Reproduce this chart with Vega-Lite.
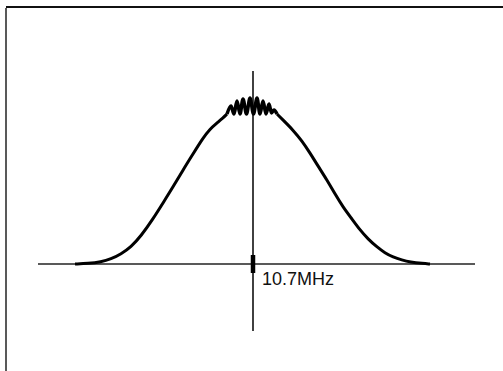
{
  "$schema": "https://vega.github.io/schema/vega-lite/v6.json",
  "width": 503,
  "height": 371,
  "autosize": {"type": "none"},
  "padding": 0,
  "background": "white",
  "config": {"view": {"stroke": null}},
  "datasets": {
    "left": [
      {"f": -178, "a": 0}, {"f": -165, "a": 0.5}, {"f": -152, "a": 2}, {"f": -142, "a": 5},
      {"f": -132, "a": 10}, {"f": -122, "a": 17}, {"f": -112, "a": 28}, {"f": -100, "a": 45},
      {"f": -90, "a": 61}, {"f": -80, "a": 77}, {"f": -70, "a": 94}, {"f": -60, "a": 110},
      {"f": -50, "a": 126}, {"f": -43, "a": 135}, {"f": -36, "a": 141}, {"f": -30, "a": 146},
      {"f": -26, "a": 150}
    ],
    "ripple": [
      {"f": -26, "a": 150}, {"f": -22, "a": 158}, {"f": -19, "a": 150}, {"f": -16, "a": 163},
      {"f": -13, "a": 150}, {"f": -10, "a": 165}, {"f": -6.5, "a": 150}, {"f": -3, "a": 166},
      {"f": 0.5, "a": 150}, {"f": 4, "a": 166}, {"f": 7, "a": 150}, {"f": 10, "a": 163},
      {"f": 13, "a": 150}, {"f": 16, "a": 160}, {"f": 18.5, "a": 151}, {"f": 21, "a": 154},
      {"f": 24, "a": 150}
    ],
    "right": [
      {"f": 24, "a": 150}, {"f": 30, "a": 144}, {"f": 40, "a": 134}, {"f": 49, "a": 123},
      {"f": 57, "a": 111}, {"f": 65, "a": 98}, {"f": 74, "a": 84}, {"f": 82, "a": 70},
      {"f": 90, "a": 57}, {"f": 99, "a": 45}, {"f": 107, "a": 34}, {"f": 115, "a": 25},
      {"f": 124, "a": 17}, {"f": 132, "a": 11}, {"f": 140, "a": 7}, {"f": 149, "a": 4},
      {"f": 157, "a": 2}, {"f": 170, "a": 0.5}, {"f": 177, "a": 0}
    ]
  },
  "encoding": {
    "x": {"type": "quantitative", "scale": {"domain": [-253, 250], "nice": false, "zero": false}, "axis": null},
    "y": {"type": "quantitative", "scale": {"domain": [-107, 264], "nice": false, "zero": false}, "axis": null}
  },
  "layer": [
    {
      "data": {"values": [{"x": -247, "y": -107, "y2": 256}]},
      "mark": {"type": "rule", "color": "#222", "strokeWidth": 1.5},
      "encoding": {"x": {"field": "x"}, "y": {"field": "y"}, "y2": {"field": "y2"}}
    },
    {
      "data": {"values": [{"x": -247, "x2": 250, "y": 257}]},
      "mark": {"type": "rule", "color": "#111", "strokeWidth": 2},
      "encoding": {"x": {"field": "x"}, "x2": {"field": "x2"}, "y": {"field": "y"}}
    },
    {
      "data": {"values": [{"x": -215, "x2": 222, "y": 0}]},
      "mark": {"type": "rule", "color": "#222", "strokeWidth": 1.5},
      "encoding": {"x": {"field": "x"}, "x2": {"field": "x2"}, "y": {"field": "y"}}
    },
    {
      "data": {"values": [{"x": 0, "y": -67, "y2": 193}]},
      "mark": {"type": "rule", "color": "#111", "strokeWidth": 1.6},
      "encoding": {"x": {"field": "x"}, "y": {"field": "y"}, "y2": {"field": "y2"}}
    },
    {
      "data": {"values": [{"x": 0, "y": -9, "y2": 9}]},
      "mark": {"type": "rule", "color": "#000", "strokeWidth": 4.5},
      "encoding": {"x": {"field": "x"}, "y": {"field": "y"}, "y2": {"field": "y2"}}
    },
    {
      "data": {"name": "left"},
      "mark": {"type": "line", "color": "#000", "strokeWidth": 3, "interpolate": "basis"},
      "encoding": {"x": {"field": "f"}, "y": {"field": "a"}}
    },
    {
      "data": {"name": "right"},
      "mark": {"type": "line", "color": "#000", "strokeWidth": 3, "interpolate": "basis"},
      "encoding": {"x": {"field": "f"}, "y": {"field": "a"}}
    },
    {
      "data": {"name": "ripple"},
      "mark": {"type": "line", "color": "#000", "strokeWidth": 3.5, "interpolate": "monotone", "strokeJoin": "round"},
      "encoding": {"x": {"field": "f"}, "y": {"field": "a"}}
    },
    {
      "data": {"values": [{"x": 9, "y": -16, "label": "10.7MHz"}]},
      "mark": {"type": "text", "align": "left", "baseline": "middle", "font": "Liberation Sans", "fontSize": 18, "color": "#111"},
      "encoding": {"x": {"field": "x"}, "y": {"field": "y"}, "text": {"field": "label"}}
    }
  ]
}
